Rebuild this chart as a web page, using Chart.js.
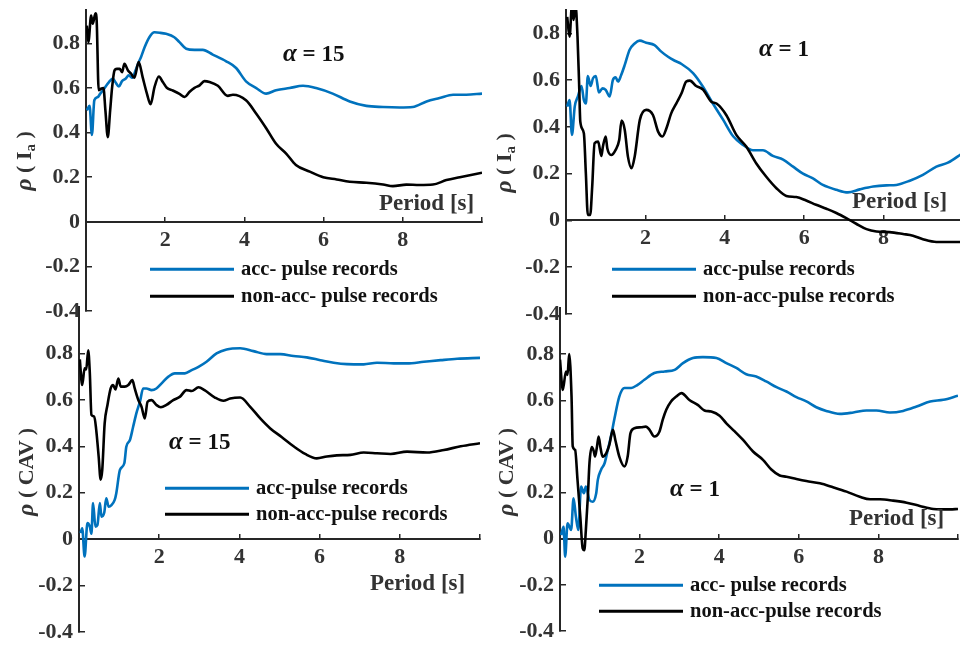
<!DOCTYPE html>
<html>
<head>
<meta charset="utf-8">
<script src="https://cdn.jsdelivr.net/npm/chart.js@4"></script>
<style>
  html, body { margin: 0; padding: 0; background: #fff; }
  body { position: relative; width: 960px; height: 645px; overflow: hidden; font-family: "Liberation Serif", serif; }
  canvas { position: absolute; }
  .t { position: absolute; white-space: nowrap; font-weight: bold; line-height: 1; transform: translateY(-50%); }
  .period { font-size: 23px; color: #333; }
  .alpha { font-size: 23px; color: #111; }
  .alpha i { font-size: 25px; }
  .yl { position: absolute; white-space: nowrap; font-weight: bold; line-height: 1; font-size: 22px; color: #333;
        transform: translate(-50%, -50%) rotate(-90deg); }
  .yl i { font-size: 24px; }
  .yl sub { font-size: 15px; vertical-align: -4px; }
  .leg { position: absolute; white-space: nowrap; font-weight: bold; font-size: 20.5px; color: #111; line-height: 1; transform: translateY(-50%); }
  .leg span { display: inline-block; width: 84px; height: 0; border-top: 3px solid; vertical-align: middle; margin-right: 7px; position: relative; top: -1px; }
</style>
</head>
<body>
<canvas id="c1"></canvas>
<canvas id="c2"></canvas>
<canvas id="c3"></canvas>
<canvas id="c4"></canvas>

<div class="yl" style="left:24px;top:161px"><i>ρ</i> ( I<sub>a</sub> )</div>
<div class="yl" style="left:504px;top:163px"><i>ρ</i> ( I<sub>a</sub> )</div>
<div class="yl" style="left:25px;top:472px"><i>ρ</i> ( CAV )</div>
<div class="yl" style="left:505px;top:472px"><i>ρ</i> ( CAV )</div>

<div class="t alpha" style="left:283px;top:52px"><i>α</i> = 15</div>
<div class="t alpha" style="left:759px;top:47px"><i>α</i> = 1</div>
<div class="t alpha" style="left:169px;top:440px"><i>α</i> = 15</div>
<div class="t alpha" style="left:670px;top:487px"><i>α</i> = 1</div>

<div class="t period" style="left:379px;top:202px">Period [s]</div>
<div class="t period" style="left:852px;top:200px">Period [s]</div>
<div class="t period" style="left:370px;top:582px">Period [s]</div>
<div class="t period" style="left:849px;top:517px">Period [s]</div>

<div class="leg" style="left:150px;top:268px"><span style="color:#0072BD"></span>acc- pulse records</div>
<div class="leg" style="left:150px;top:295px"><span style="color:#000"></span>non-acc- pulse records</div>
<div class="leg" style="left:612px;top:268px"><span style="color:#0072BD"></span>acc-pulse records</div>
<div class="leg" style="left:612px;top:295px"><span style="color:#000"></span>non-acc-pulse records</div>
<div class="leg" style="left:165px;top:487px"><span style="color:#0072BD"></span>acc-pulse records</div>
<div class="leg" style="left:165px;top:513px"><span style="color:#000"></span>non-acc-pulse records</div>
<div class="leg" style="left:599px;top:584px"><span style="color:#0072BD"></span>acc- pulse records</div>
<div class="leg" style="left:599px;top:610px"><span style="color:#000"></span>non-acc-pulse records</div>

<script>
// tick values shared by all four panels
const yTicks = [-0.4, -0.2, 0, 0.2, 0.4, 0.6, 0.8];
const xTicks = [2, 4, 6, 8, 10];

// rho(Ia), alpha = 15
const ia15AccT = [0.02,0.09,0.15,0.21,0.30,0.36,0.43,0.51,0.58,0.68,0.74,0.83,0.91,1.0,1.08,1.17,1.25,1.33,1.39,1.48,1.6,1.73,1.86,2.02,2.23,2.36,2.53,2.74,2.95,3.2,3.54,3.79,4.04,4.3,4.55,4.8,5.14,5.48,5.81,6.23,6.66,7.08,7.5,7.92,8.25,8.6,8.93,9.27,9.6,10];
const ia15AccRho = [0.50,0.52,0.39,0.545,0.56,0.575,0.59,0.61,0.627,0.642,0.627,0.607,0.631,0.642,0.657,0.646,0.679,0.716,0.739,0.783,0.828,0.85,0.848,0.843,0.828,0.806,0.776,0.771,0.771,0.75,0.72,0.69,0.63,0.60,0.575,0.59,0.60,0.61,0.60,0.575,0.54,0.52,0.515,0.513,0.515,0.54,0.555,0.57,0.57,0.575];
const ia15NonT = [0.02,0.06,0.13,0.17,0.24,0.27,0.32,0.38,0.44,0.49,0.55,0.61,0.66,0.72,0.78,0.85,0.91,0.97,1.06,1.14,1.22,1.33,1.43,1.54,1.63,1.73,1.84,1.94,2.04,2.19,2.36,2.49,2.61,2.74,2.87,2.99,3.12,3.33,3.58,3.71,4.04,4.3,4.55,4.8,5.06,5.3,5.65,5.99,6.33,6.66,7.08,7.5,7.75,8.09,8.42,8.76,9.1,9.44,10];
const ia15NonRho = [0.88,0.806,0.925,0.888,0.935,0.90,0.59,0.597,0.60,0.50,0.38,0.50,0.604,0.679,0.686,0.686,0.671,0.709,0.679,0.664,0.646,0.716,0.649,0.574,0.527,0.604,0.652,0.627,0.601,0.589,0.574,0.56,0.582,0.601,0.612,0.631,0.627,0.61,0.565,0.57,0.545,0.485,0.42,0.35,0.305,0.255,0.225,0.20,0.19,0.18,0.175,0.167,0.16,0.167,0.165,0.167,0.187,0.20,0.22];

// rho(Ia), alpha = 1
const ia1AccT = [0.03,0.09,0.15,0.22,0.30,0.39,0.45,0.50,0.55,0.62,0.68,0.75,0.83,0.92,1.0,1.1,1.18,1.25,1.31,1.39,1.48,1.6,1.73,1.86,2.02,2.23,2.4,2.57,2.74,2.91,3.2,3.45,3.7,3.96,4.21,4.46,4.71,4.96,5.21,5.47,5.72,5.97,6.22,6.47,6.81,7.1,7.4,7.74,8.07,8.32,8.66,8.99,9.33,9.62,9.92,10];
const ia1AccRho = [0.487,0.515,0.366,0.487,0.53,0.575,0.515,0.50,0.618,0.575,0.608,0.618,0.547,0.565,0.558,0.53,0.60,0.612,0.594,0.622,0.665,0.729,0.757,0.769,0.76,0.75,0.722,0.70,0.683,0.669,0.63,0.572,0.50,0.43,0.36,0.323,0.30,0.30,0.276,0.26,0.23,0.20,0.18,0.152,0.131,0.12,0.133,0.145,0.15,0.152,0.17,0.195,0.23,0.247,0.28,0.29];
const ia1NonT = [0.03,0.09,0.15,0.19,0.24,0.29,0.33,0.36,0.45,0.5,0.55,0.61,0.66,0.72,0.81,0.89,0.93,1.0,1.04,1.14,1.25,1.34,1.4,1.48,1.56,1.65,1.73,1.86,2.02,2.19,2.32,2.43,2.53,2.65,2.78,2.91,3.03,3.12,3.28,3.45,3.66,3.79,4.04,4.29,4.54,4.79,5.04,5.3,5.55,5.8,6.05,6.3,6.56,6.81,7.06,7.31,7.57,7.82,8.15,8.49,8.74,8.99,9.33,10];
const ia1NonRho = [0.871,0.786,0.92,0.857,0.92,0.786,0.586,0.423,0.373,0.202,0.024,0.024,0.145,0.33,0.337,0.276,0.316,0.359,0.309,0.28,0.302,0.344,0.427,0.387,0.273,0.223,0.273,0.43,0.473,0.451,0.38,0.359,0.394,0.458,0.501,0.544,0.594,0.598,0.575,0.56,0.508,0.50,0.45,0.366,0.316,0.245,0.188,0.138,0.105,0.10,0.085,0.067,0.05,0.032,0.01,-0.014,-0.037,-0.047,-0.05,-0.058,-0.065,-0.08,-0.092,-0.092];

// rho(CAV), alpha = 15
const cav15AccT = [0.04,0.08,0.14,0.21,0.27,0.31,0.35,0.41,0.46,0.52,0.56,0.63,0.68,0.74,0.81,0.89,0.93,1.02,1.13,1.18,1.27,1.35,1.43,1.52,1.6,1.68,1.81,1.93,2.06,2.23,2.39,2.64,2.81,2.98,3.18,3.43,3.68,4.02,4.35,4.68,5.02,5.35,5.68,6.02,6.35,6.68,7.1,7.43,7.85,8.18,8.6,9.02,9.43,10];
const cav15AccRho = [0.026,0.047,-0.075,0.069,0.054,0.023,0.155,0.054,0.061,0.155,0.097,0.115,0.176,0.14,0.147,0.169,0.198,0.298,0.327,0.398,0.427,0.484,0.542,0.592,0.649,0.649,0.642,0.649,0.671,0.70,0.714,0.714,0.728,0.742,0.764,0.80,0.817,0.822,0.81,0.797,0.797,0.789,0.783,0.771,0.76,0.754,0.753,0.76,0.757,0.757,0.764,0.771,0.777,0.781];
const cav15NonT = [0.02,0.08,0.14,0.18,0.23,0.27,0.31,0.38,0.43,0.49,0.54,0.58,0.64,0.71,0.79,0.85,0.91,0.98,1.04,1.14,1.23,1.33,1.39,1.48,1.56,1.64,1.71,1.81,1.93,2.04,2.18,2.35,2.52,2.68,2.81,2.98,3.13,3.39,3.6,3.77,4.02,4.27,4.52,4.77,5.06,5.35,5.64,5.93,6.18,6.43,6.77,7.1,7.43,7.77,8.18,8.68,9.1,9.52,10];
const cav15NonRho = [0.774,0.664,0.736,0.731,0.814,0.714,0.535,0.528,0.47,0.356,0.256,0.298,0.499,0.578,0.649,0.664,0.645,0.692,0.657,0.657,0.664,0.685,0.649,0.599,0.57,0.52,0.592,0.599,0.578,0.568,0.578,0.599,0.614,0.642,0.638,0.654,0.642,0.61,0.596,0.606,0.61,0.57,0.52,0.477,0.439,0.40,0.367,0.348,0.356,0.361,0.363,0.373,0.37,0.367,0.377,0.373,0.384,0.40,0.413];

// rho(CAV), alpha = 1
const cav1AccT = [0.03,0.09,0.13,0.19,0.28,0.34,0.40,0.46,0.53,0.6,0.65,0.74,0.82,0.91,0.95,1.03,1.12,1.2,1.28,1.37,1.49,1.62,1.79,1.95,2.12,2.37,2.63,2.88,3.09,3.34,3.59,3.93,4.18,4.43,4.68,4.93,5.18,5.44,5.69,5.94,6.19,6.44,6.69,7.03,7.37,7.7,7.95,8.29,8.62,8.96,9.3,9.63,10];
const cav1AccRho = [0.016,0.052,-0.078,0.067,0.038,0.175,0.095,0.038,0.226,0.197,0.226,0.168,0.16,0.197,0.255,0.298,0.327,0.385,0.443,0.522,0.616,0.653,0.653,0.667,0.689,0.718,0.725,0.732,0.761,0.783,0.787,0.783,0.761,0.74,0.713,0.703,0.682,0.657,0.638,0.614,0.595,0.57,0.554,0.541,0.547,0.556,0.556,0.547,0.554,0.573,0.595,0.602,0.62];
const cav1NonT = [0.0,0.07,0.15,0.19,0.23,0.29,0.32,0.38,0.44,0.51,0.57,0.61,0.65,0.70,0.74,0.8,0.85,0.88,0.93,0.97,1.02,1.07,1.16,1.24,1.33,1.39,1.49,1.62,1.7,1.77,1.87,2.04,2.16,2.25,2.37,2.5,2.58,2.67,2.79,2.92,3.05,3.26,3.46,3.63,3.8,4.01,4.18,4.39,4.6,4.85,5.1,5.31,5.52,5.69,5.94,6.19,6.53,6.86,7.2,7.53,7.79,8.04,8.37,8.71,9.04,9.38,9.8,10];
const cav1NonRho = [0.776,0.645,0.725,0.71,0.80,0.616,0.40,0.385,0.255,0.096,-0.042,-0.05,0.038,0.182,0.327,0.397,0.378,0.356,0.40,0.443,0.392,0.356,0.37,0.407,0.472,0.428,0.356,0.313,0.356,0.457,0.479,0.483,0.486,0.472,0.443,0.465,0.515,0.559,0.595,0.616,0.631,0.60,0.58,0.556,0.551,0.533,0.50,0.465,0.428,0.378,0.342,0.30,0.274,0.269,0.259,0.25,0.24,0.223,0.204,0.182,0.171,0.171,0.165,0.156,0.142,0.129,0.127,0.129];

const accColor = "#0072BD";
const nonColor = "#000000";
const axisColor = "#262626";
const tickFont = { family: "Liberation Serif", size: 22, weight: "bold" };

Chart.defaults.font.family = "Liberation Serif";

function toPoints(ts, vals) {
  return ts.map((t, i) => ({ x: t, y: vals[i] }));
}

// box = pixel edges of the plot area on the page
function makePanel(id, box, yMax, accT, accRho, nonT, nonRho) {
  const AW = 70, PAD = 35;
  const canvas = document.getElementById(id);
  const w = box.right - box.left + AW + PAD;
  const h = box.bottom - box.top + 2 * PAD;
  canvas.width = w;
  canvas.height = h;
  canvas.style.width = w + "px";
  canvas.style.height = h + "px";
  canvas.style.left = (box.left - AW) + "px";
  canvas.style.top = (box.top - PAD) + "px";

  new Chart(canvas, {
    type: "line",
    data: {
      datasets: [
        { label: "non-acc", data: toPoints(nonT, nonRho), borderColor: nonColor, borderWidth: 2.6 },
        { label: "acc", data: toPoints(accT, accRho), borderColor: accColor, borderWidth: 2.6 },
      ]
    },
    options: {
      responsive: false,
      animation: false,
      layout: { padding: { left: 0, top: PAD, right: PAD, bottom: PAD } },
      elements: {
        point: { radius: 0 },
        line: { cubicInterpolationMode: "monotone", fill: false }
      },
      plugins: { legend: { display: false }, tooltip: { enabled: false } },
      scales: {
        x: {
          type: "linear",
          min: 0,
          max: 10,
          position: { y: 0 },
          afterBuildTicks: s => { s.ticks = xTicks.map(v => ({ value: v })); },
          grid: { display: true, drawOnChartArea: false, drawTicks: true, tickLength: -6, color: axisColor, lineWidth: 1.5 },
          border: { display: true, color: axisColor, width: 2 },
          ticks: { font: tickFont, color: "#333", padding: 11, maxRotation: 0, autoSkip: false,
                   callback: v => (v === 10 ? "" : String(v)) }
        },
        y: {
          type: "linear",
          min: -0.4,
          max: yMax,
          position: "left",
          afterBuildTicks: s => { s.ticks = yTicks.map(v => ({ value: v })); },
          afterFit: s => { s.width = AW; },
          grid: { display: true, drawOnChartArea: false, drawTicks: true, tickLength: -6, color: axisColor, lineWidth: 1.5 },
          border: { display: true, color: axisColor, width: 2 },
          ticks: { font: tickFont, color: "#333", padding: 12,
                   callback: v => (Math.abs(v) < 1e-9 ? "0" : v.toFixed(1)) }
        }
      }
    }
  });
}

makePanel("c1", { left: 86, top: 10, right: 482, bottom: 311 }, 0.95, ia15AccT, ia15AccRho, ia15NonT, ia15NonRho);
makePanel("c2", { left: 566, top: 10, right: 963, bottom: 314 }, 0.9, ia1AccT, ia1AccRho, ia1NonT, ia1NonRho);
makePanel("c3", { left: 79, top: 307, right: 480, bottom: 632 }, 1.0, cav15AccT, cav15AccRho, cav15NonT, cav15NonRho);
makePanel("c4", { left: 560, top: 308, right: 958, bottom: 631 }, 1.0, cav1AccT, cav1AccRho, cav1NonT, cav1NonRho);
</script>
</body>
</html>
